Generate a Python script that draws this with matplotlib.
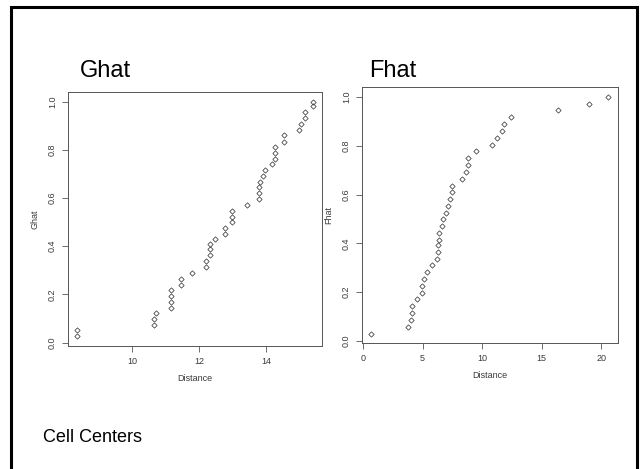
import matplotlib.pyplot as plt
from matplotlib.patches import Rectangle

# Ghat: nearest-neighbour distances (sorted) and empirical cdf
ghat_x = [8.36, 8.36, 10.66, 10.66, 10.70, 11.15, 11.15, 11.17, 11.17, 11.47,
          11.47, 11.80, 12.20, 12.20, 12.32, 12.32, 12.32, 12.48, 12.77, 12.77,
          12.99, 12.99, 12.99, 13.42, 13.80, 13.80, 13.80, 13.81, 13.91, 13.97,
          14.19, 14.27, 14.27, 14.27, 14.53, 14.53, 14.97, 15.03, 15.15, 15.15,
          15.39, 15.39]
ghat_y = [0.026, 0.051, 0.072, 0.097, 0.122, 0.143, 0.170, 0.195, 0.217, 0.241,
          0.266, 0.289, 0.313, 0.338, 0.363, 0.387, 0.410, 0.428, 0.449, 0.474,
          0.499, 0.523, 0.548, 0.572, 0.595, 0.620, 0.644, 0.665, 0.691, 0.716,
          0.740, 0.762, 0.787, 0.812, 0.834, 0.860, 0.883, 0.908, 0.932, 0.957,
          0.981, 1.0]

# Fhat: point-to-event distances
fhat_x = [0.70, 3.77, 4.05, 4.11, 4.11, 4.56, 4.95, 4.95, 5.09, 5.34,
          5.77, 6.19, 6.27, 6.33, 6.41, 6.41, 6.61, 6.67, 7.00, 7.17,
          7.29, 7.45, 7.45, 8.33, 8.66, 8.83, 8.83, 9.51, 10.80, 11.25,
          11.67, 11.87, 12.38, 16.37, 18.96, 20.59]
fhat_y = [0.030, 0.058, 0.086, 0.113, 0.142, 0.170, 0.196, 0.224, 0.253, 0.282,
          0.310, 0.336, 0.364, 0.391, 0.414, 0.443, 0.469, 0.498, 0.524, 0.552,
          0.581, 0.609, 0.636, 0.664, 0.693, 0.721, 0.750, 0.777, 0.805, 0.833,
          0.860, 0.889, 0.917, 0.945, 0.972, 1.0]

plt.rcParams['font.family'] = ['Liberation Sans', 'DejaVu Sans']

W, H = 640, 469
fig = plt.figure(figsize=(6.4, 4.69), dpi=100)

# slide frame
fig.patches.append(Rectangle((11 / W, -0.05), 626 / W, 1.05 - 7 / H,
                             transform=fig.transFigure, fill=False,
                             edgecolor='black', linewidth=2.2))

axcol = '#555555'
txtcol = '#3a3a3a'


def r_style(ax, xs, ys, xlabel, ylabel, xticks):
    ax.plot(xs, ys, linestyle='none', marker='D', markersize=2.7,
            markerfacecolor='none', markeredgecolor='#3a3a3a', markeredgewidth=0.55)
    ax.margins(0.04)
    ax.set_xticks(xticks)
    ax.set_yticks([0.0, 0.2, 0.4, 0.6, 0.8, 1.0])
    ax.set_yticklabels(['0.0', '0.2', '0.4', '0.6', '0.8', '1.0'],
                       rotation=90, va='center')
    ax.tick_params(direction='out', length=4, width=0.6, color=axcol,
                   labelsize=6.5, labelcolor=txtcol, pad=4)
    for s in ax.spines.values():
        s.set_color(axcol)
        s.set_linewidth(0.7)
    ax.set_xlabel(xlabel, fontsize=6.5, color=txtcol, labelpad=6)
    ax.set_ylabel(ylabel, fontsize=6.5, color=txtcol, labelpad=6)


ax1 = fig.add_axes([68 / W, 1 - 345.7 / H, 254 / W, 253.4 / H])
r_style(ax1, ghat_x, ghat_y, 'Distance', 'Ghat', [10, 12, 14])

ax2 = fig.add_axes([362 / W, 1 - 343 / H, 255.7 / W, 255.5 / H])
r_style(ax2, fhat_x, fhat_y, 'Distance', 'Fhat', [0, 5, 10, 15, 20])

fig.text(80 / W, 1 - 77 / H, 'Ghat', fontsize=17, va='baseline')
fig.text(369 / W, 1 - 77 / H, 'Fhat', fontsize=17, va='baseline')
fig.text(43 / W, 1 - 442 / H, 'Cell Centers', fontsize=13, va='baseline')

fig.savefig('out.png', dpi=100)
